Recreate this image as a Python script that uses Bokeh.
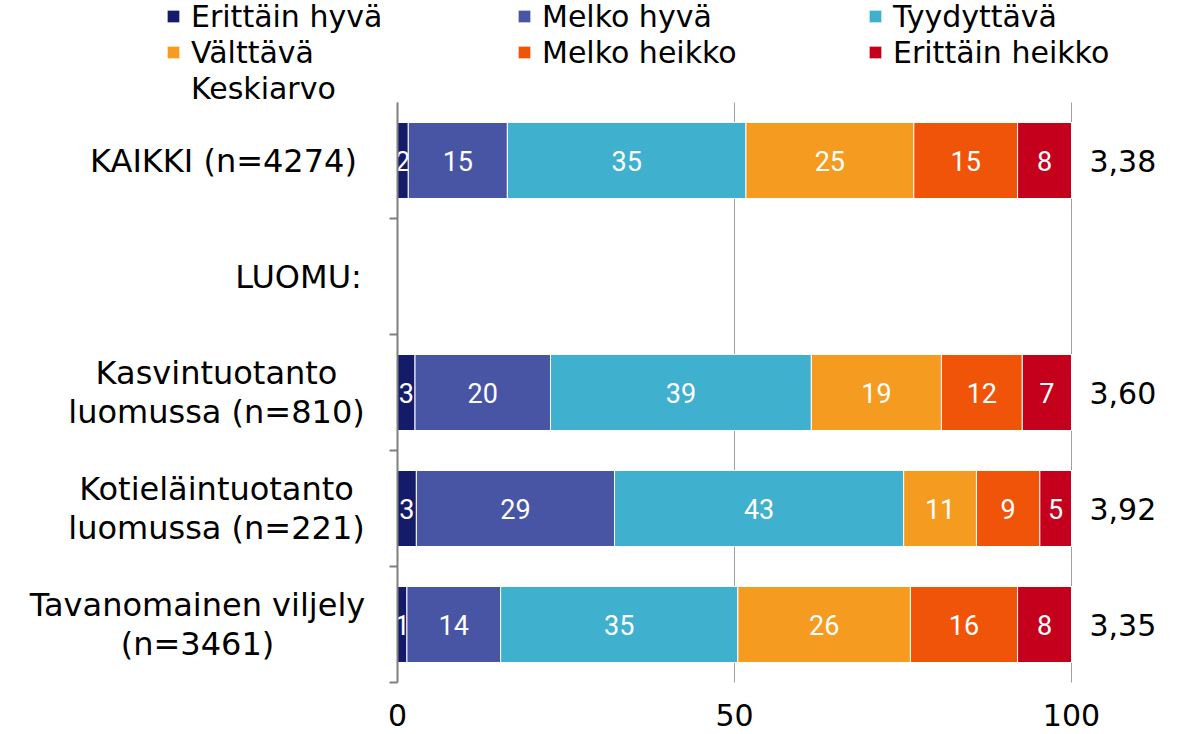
from bokeh.plotting import figure
from bokeh.models import Range1d, FixedTicker, Legend, LegendItem, ColumnDataSource, LinearAxis, Label
from bokeh.core.properties import value
from bokeh.embed import file_html
from bokeh.resources import INLINE

# ---------------- data ----------------
categories = [
    "KAIKKI (n=4274)",
    "LUOMU:",
    "Kasvintuotanto\nluomussa (n=810)",
    "Kotieläintuotanto\nluomussa (n=221)",
    "Tavanomainen viljely\n(n=3461)",
]
series_names = ["Erittäin hyvä", "Melko hyvä", "Tyydyttävä", "Välttävä", "Melko heikko", "Erittäin heikko"]
erittain_hyva = [1.6, 0, 2.6, 2.8, 1.4]
melko_hyva = [14.7, 0, 20.1, 29.4, 13.9]
tyydyttava = [35.4, 0, 38.7, 42.9, 35.2]
valttava = [24.9, 0, 19.3, 10.8, 25.6]
melko_heikko = [15.4, 0, 12.0, 9.4, 15.9]
erittain_heikko = [8.0, 0, 7.3, 4.7, 8.0]
keskiarvo = [3.38, None, 3.60, 3.92, 3.35]
x_ticks = [0, 50, 100]

series_values = [erittain_hyva, melko_hyva, tyydyttava, valttava, melko_heikko, erittain_heikko]

# ---------------- style / layout ----------------
colors = ["#141C6A", "#4855A5", "#3FB0CD", "#F59B20", "#EF5408", "#C5001C"]
FONT = "DejaVu Sans"
W, H = 1181, 734
PLOT_L, PLOT_R, PLOT_T, PLOT_B = 397, 1071, 102, 682   # plot area in canvas px
CAT_CENTER_PX = [223, 298, 216, 216, 197]              # horizontal centre of each category label
n_rows = len(categories)
xs = (PLOT_R - PLOT_L) / 100.0
ys_ = (PLOT_B - PLOT_T) / n_rows
x_range = Range1d(-PLOT_L / xs, 100 + (W - PLOT_R) / xs)
y_range = Range1d(n_rows - 0.5 + (H - PLOT_B) / ys_, -0.5 - PLOT_T / ys_)

p = figure(width=W, height=H, output_backend="svg", toolbar_location=None,
           x_range=x_range, y_range=y_range,
           min_border_left=0, min_border_right=0, min_border_top=0, min_border_bottom=0)
p.outline_line_color = None
p.background_fill_color = "white"
p.border_fill_color = "white"

rows = list(range(n_rows))
renderers = []
left = [0.0] * n_rows
for name, vals, col in zip(series_names, series_values, colors):
    ys, ls, rs, mids, txt = [], [], [], [], []
    for i in rows:
        v = vals[i]
        if v:
            ys.append(i)
            ls.append(left[i])
            rs.append(left[i] + v)
            mids.append(left[i] + v / 2)
            txt.append(f"{v:.0f}")
            left[i] += v
    src = ColumnDataSource(dict(y=ys, left=ls, right=rs, mid=mids, txt=txt))
    r = p.hbar(y="y", left="left", right="right", height=0.655, source=src,
               fill_color=col, line_color="white", line_width=1)
    renderers.append(r)
    p.text(x="mid", y="y", text="txt", source=src, text_color="white",
           text_font=value("Roboto"), text_font_size="27px",
           text_align="center", text_baseline="middle")

# legend
LEG_ROW = 36
r_mean = p.hbar(y=[], left=[], right=[], height=0.5, fill_alpha=0, line_alpha=0)
items = [LegendItem(label=n, renderers=[r]) for n, r in zip(series_names, renderers)]
items.append(LegendItem(label="Keskiarvo", renderers=[r_mean]))
legend = Legend(items=items, location=(165, H + 2 - 3 * LEG_ROW), orientation="horizontal", ncols=3,
                glyph_width=16, glyph_height=16, label_standoff=10, label_width=325,
                label_height=LEG_ROW, spacing=0, padding=0, margin=0,
                border_line_color=None, background_fill_alpha=0,
                label_text_font=FONT, label_text_font_size="30px", label_text_color="black")
p.add_layout(legend, "center")

# category labels (centred multi-line blocks left of the axis)
for i, (c, cx) in enumerate(zip(categories, CAT_CENTER_PX)):
    p.add_layout(Label(x=(cx - PLOT_L) / xs, y=i, text=c, text_align="center",
                       text_baseline="middle", text_font=FONT, text_font_size="32px",
                       text_line_height=1.02, text_color="black"))

# left axis at x = 0: tick marks at row boundaries
ya = p.yaxis[0]
ya.fixed_location = 0
ya.bounds = (-0.5, n_rows - 0.5)
ya.ticker = FixedTicker(ticks=[], minor_ticks=[i + 0.5 for i in rows])
ya.axis_line_color = "#808080"
ya.axis_line_width = 2
ya.major_tick_line_color = None
ya.minor_tick_line_color = "#808080"
ya.minor_tick_line_width = 2
ya.minor_tick_out = 8
ya.minor_tick_in = 0

# right axis at x = 100: mean values
mean_rows = [i for i, m in zip(rows, keskiarvo) if m is not None]
ra = LinearAxis(ticker=FixedTicker(ticks=mean_rows), fixed_location=100,
                major_label_overrides={i: f"{keskiarvo[i]:.2f}".replace(".", ",") for i in mean_rows})
ra.axis_line_color = None
ra.major_tick_line_color = None
ra.minor_tick_line_color = None
ra.major_tick_out = 0
ra.major_label_standoff = 18
ra.major_label_text_font = FONT
ra.major_label_text_font_size = "30px"
ra.major_label_text_color = "black"
p.add_layout(ra, "right")

# bottom axis at the bottom edge of the plot area
xa = p.xaxis[0]
xa.fixed_location = n_rows - 0.5
xa.ticker = FixedTicker(ticks=x_ticks)
xa.axis_line_color = None
xa.major_tick_line_color = None
xa.minor_tick_line_color = None
xa.major_label_text_font = FONT
xa.major_label_text_font_size = "30px"
xa.major_label_text_color = "black"
xa.major_label_standoff = 15

p.xgrid.ticker = FixedTicker(ticks=x_ticks)
p.xgrid.cross_bounds = (-0.5, n_rows - 0.5)
p.xgrid.grid_line_color = "#a0a0a0"
p.xgrid.grid_line_width = 1
p.ygrid.visible = False

open("out.html", "w").write(file_html(p, INLINE))
